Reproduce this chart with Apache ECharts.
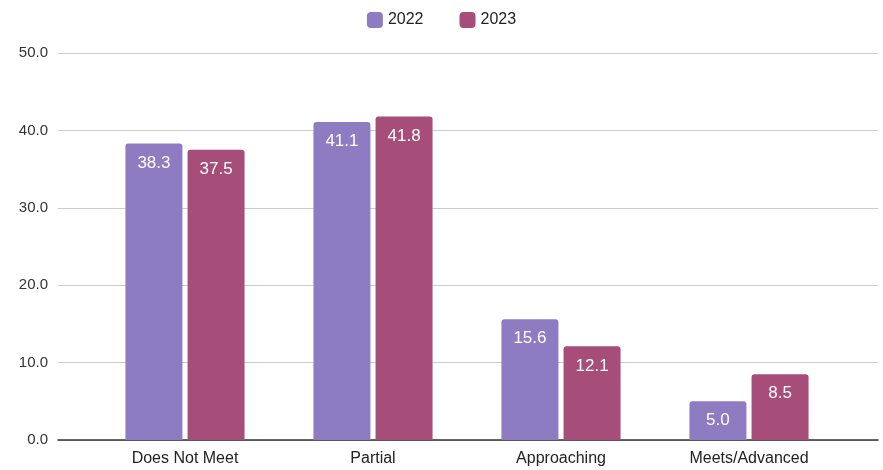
<!DOCTYPE html>
<html><head><meta charset="utf-8">
<script src="https://cdn.jsdelivr.net/npm/echarts@6/dist/echarts.min.js"></script>
<style>html,body{margin:0;padding:0;background:#fff}#c{width:883px;height:470px}</style>
</head><body><div id="c"></div>
<script>
const categories = ['Does Not Meet', 'Partial', 'Approaching', 'Meets/Advanced'];
const series2022 = [38.3, 41.1, 15.6, 5.0];
const series2023 = [37.5, 41.8, 12.1, 8.5];
const seriesNames = ['2022', '2023'];
const colors = ['#8e7cc3', '#a64d79'];

const chart = echarts.init(document.getElementById('c'));
const font = 'Liberation Sans, Arial, sans-serif';
const lbl = {
  show: true, position: 'insideTop', distance: 11, color: '#fff',
  fontSize: 17, fontFamily: font, formatter: p => p.value.toFixed(1)
};
chart.setOption({
  animation: false,
  color: colors,
  legend: {
    top: 7, left: 'center', itemWidth: 16, itemHeight: 16, itemGap: 36,
    icon: 'roundRect',
    textStyle: { fontSize: 16, color: '#222', fontFamily: font },
    data: seriesNames
  },
  grid: [
    { left: 58, right: 5, top: 53, bottom: 30 },
    { left: 91, right: 40, top: 53, bottom: 30 }
  ],
  xAxis: [
    { gridIndex: 0, type: 'value', min: 0, max: 1, show: true,
      axisLabel: { show: false }, axisTick: { show: false }, splitLine: { show: false },
      axisLine: { show: true, onZero: false, lineStyle: { color: '#333', width: 1.5 } } },
    { gridIndex: 1, type: 'category', data: categories,
      axisLine: { show: false }, axisTick: { show: false },
      axisLabel: { fontSize: 16, color: '#222', margin: 11, fontFamily: font } }
  ],
  yAxis: [
    { gridIndex: 0, type: 'value', min: 0, max: 50, interval: 10,
      axisLabel: { fontSize: 15, color: '#333', margin: 10, fontFamily: font, formatter: v => v.toFixed(1) },
      axisLine: { show: false }, axisTick: { show: false },
      splitLine: { lineStyle: { color: '#cccccc', width: 1 } } },
    { gridIndex: 1, type: 'value', min: 0, max: 50, interval: 10, show: false,
      splitLine: { show: false } }
  ],
  series: [
    { name: seriesNames[0], type: 'bar', xAxisIndex: 1, yAxisIndex: 1, data: series2022,
      barWidth: 57, barGap: '9%', itemStyle: { color: colors[0], borderRadius: [3, 3, 0, 0] }, label: lbl },
    { name: seriesNames[1], type: 'bar', xAxisIndex: 1, yAxisIndex: 1, data: series2023,
      barWidth: 57, itemStyle: { color: colors[1], borderRadius: [3, 3, 0, 0] }, label: lbl }
  ]
});
</script></body></html>
